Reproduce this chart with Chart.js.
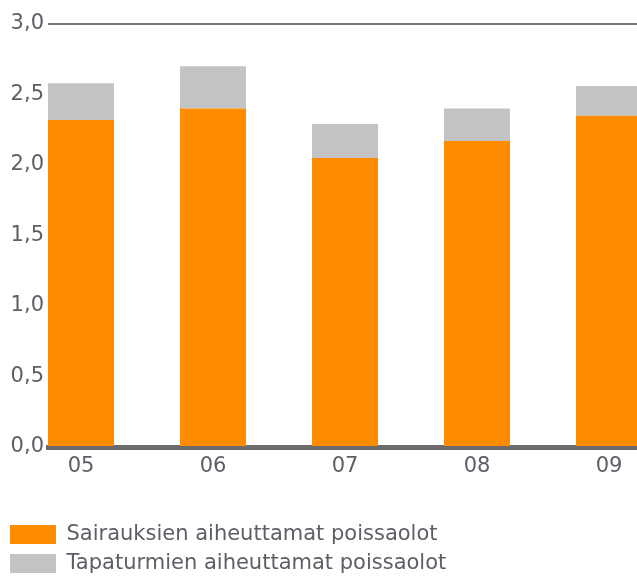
<!DOCTYPE html>
<html>
<head>
<meta charset="utf-8">
<script src="https://cdn.jsdelivr.net/npm/chart.js@4.4.0/dist/chart.umd.min.js"></script>
<style>
  html, body { margin: 0; padding: 0; background: #fff; }
  #wrap { width: 637px; height: 576px; }
</style>
</head>
<body>
<div id="wrap"><canvas id="poissaolot"></canvas></div>
<script>
'use strict';

// ****************************************
//               DATA
// ****************************************
const years = ['05', '06', '07', '08', '09'];
const sairaudet = [2.32, 2.40, 2.05, 2.17, 2.35];   // Sairauksien aiheuttamat poissaolot
const tapaturmat = [0.26, 0.30, 0.24, 0.23, 0.21];  // Tapaturmien aiheuttamat poissaolot
const yTicks = [0, 0.5, 1, 1.5, 2, 2.5, 3];

const textColor = '#5c5f66';
const tickFont = { family: 'DejaVu Sans', size: 21 };

// x runs on a linear scale so the first bar starts right at the y axis
function toPoints(values) {
  return values.map((v, i) => ({ x: i, y: v }));
}

// ****************************************
//               CHART
// ****************************************
const ctx = document.getElementById('poissaolot');

new Chart(ctx, {
  type: 'bar',
  data: {
    datasets: [{
      label: 'Sairauksien aiheuttamat poissaolot',
      data: toPoints(sairaudet),
      backgroundColor: '#ff8c00',
      categoryPercentage: 1,
      barPercentage: 0.5
    }, {
      label: 'Tapaturmien aiheuttamat poissaolot',
      data: toPoints(tapaturmat),
      backgroundColor: '#c3c3c5',
      categoryPercentage: 1,
      barPercentage: 0.5
    }]
  },
  options: {
    responsive: true,
    maintainAspectRatio: false,
    animation: false,
    layout: { padding: { top: 24, left: 2, right: 0, bottom: -8 } },
    plugins: {
      tooltip: { enabled: false },
      legend: {
        position: 'bottom',
        align: 'start',
        labels: {
          boxWidth: 46,
          boxHeight: 19,
          padding: 8,
          color: textColor,
          font: { family: 'DejaVu Sans', size: 21 }
        }
      }
    },
    scales: {
      x: {
        type: 'linear',
        stacked: true,
        offset: false,
        min: -0.25,
        max: 4.212,
        grid: { display: false },
        border: { display: true, width: 5, color: '#6b6b6b' },
        afterBuildTicks: (scale) => {
          scale.ticks = years.map((y, i) => ({ value: i }));
        },
        afterFit: (scale) => { scale.height = 69; },
        ticks: {
          color: textColor,
          font: tickFont,
          padding: -1,
          maxRotation: 0,
          callback: (value) => years[value]
        }
      },
      y: {
        stacked: true,
        min: 0,
        max: 3,
        afterFit: (scale) => { scale.width = 46; },
        afterBuildTicks: (scale) => {
          scale.ticks = yTicks.map((v) => ({ value: v }));
        },
        grid: {
          drawTicks: false,
          color: (c) => (c.tick && c.tick.value === 3 ? '#777777' : 'rgba(0,0,0,0)'),
          lineWidth: 2
        },
        border: { display: false },
        ticks: {
          color: textColor,
          font: tickFont,
          padding: 4,
          callback: (value) => value.toFixed(1).replace('.', ',')
        }
      }
    }
  }
});
</script>
</body>
</html>
